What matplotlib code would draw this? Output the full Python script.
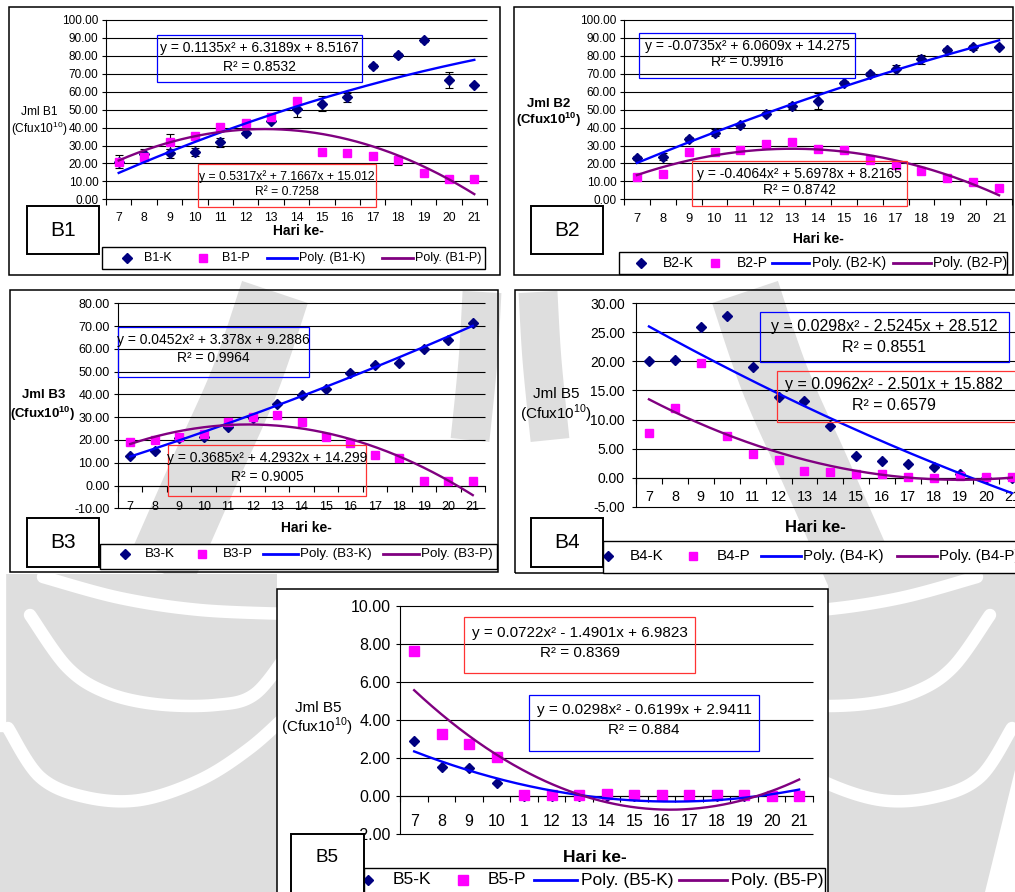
import numpy as np
import matplotlib
matplotlib.use("Agg")
import matplotlib.pyplot as plt
from matplotlib.lines import Line2D
from matplotlib.patches import Rectangle, Polygon
from matplotlib.ticker import FormatStrFormatter

plt.rcParams["font.family"] = ["Liberation Sans", "DejaVu Sans"]
plt.rcParams["mathtext.fontset"] = "custom"
plt.rcParams["mathtext.rm"] = "Liberation Sans"
plt.rcParams["mathtext.bf"] = "Liberation Sans:bold"

W, H = 1015, 892
NAVY, MAGENTA, BLUE, PURPLE = "#000080", "#FF00FF", "#0000FF", "#800080"

days = np.arange(7, 22)

# --- B1 ---
b1_k = [21.0, 25.3, 25.8, 26.4, 31.8, 36.8, 43.9, 50.6, 53.4, 57.0, 74.4, 80.6, 89.0, 66.5, 63.9]
b1_k_err = [3.5, 2.5, 2.5, 2.0, 2.5, 1.0, 1.0, 4.5, 4.0, 2.5, 1.0, 1.0, 1.0, 4.5, 0.5]
b1_p = [21.0, 23.4, 32.2, 35.1, 40.3, 42.8, 46.0, 54.6, 26.6, 26.0, 24.0, 21.7, 14.9, 11.3, 11.4]
b1_p_err = [1.0, 1.0, 4.0, 1.0, 1.5, 1.5, 1.0, 1.0, 0.5, 0.5, 0.5, 2.5, 0.5, 0.5, 0.5]
b1_k_fit = [-0.1135, 6.3189, 8.5167]
b1_p_fit = [-0.5317, 7.1667, 15.012]
b1_k_eq = ["y = 0.1135x² + 6.3189x + 8.5167", "R² = 0.8532"]
b1_p_eq = ["y = 0.5317x² + 7.1667x + 15.012", "R² = 0.7258"]

# --- B2 ---
b2_k = [22.9, 23.8, 33.5, 37.2, 41.4, 47.8, 52.0, 55.0, 64.7, 69.9, 72.5, 78.1, 83.3, 84.8, 85.1]
b2_k_err = [1.0, 2.0, 1.0, 2.0, 1.0, 1.0, 1.5, 4.5, 1.0, 1.0, 2.5, 2.5, 1.0, 1.5, 0.5]
b2_p = [12.5, 13.9, 26.4, 26.4, 27.3, 30.9, 32.2, 27.9, 27.3, 21.9, 19.0, 16.0, 11.7, 9.9, 6.5]
b2_p_err = [0.5] * 15
b2_k_fit = [-0.0735, 6.0609, 14.275]
b2_p_fit = [-0.4064, 5.6978, 8.2165]
b2_k_eq = ["y = -0.0735x² + 6.0609x + 14.275", "R² = 0.9916"]
b2_p_eq = ["y = -0.4064x² + 5.6978x + 8.2165", "R² = 0.8742"]

# --- B3 ---
b3_k = [13.0, 15.3, 20.8, 21.5, 25.9, 29.5, 35.7, 39.6, 42.3, 49.4, 52.9, 54.0, 59.8, 63.8, 71.3]
b3_p = [19.0, 20.2, 21.5, 22.8, 28.0, 30.3, 31.0, 28.0, 21.3, 18.7, 13.4, 12.2, 1.9, 1.9, 1.9]
b3_k_fit = [0.0452, 3.378, 9.2886]
b3_p_fit = [-0.3685, 4.2932, 14.299]
b3_k_eq = ["y = 0.0452x² + 3.378x + 9.2886", "R² = 0.9964"]
b3_p_eq = ["y = 0.3685x² + 4.2932x + 14.299", "R² = 0.9005"]

# --- B4 ---
b4_k = [20.0, 20.2, 26.0, 27.8, 19.0, 13.8, 13.2, 8.9, 3.8, 2.9, 2.4, 1.8, 0.7, 0.0, 0.0]
b4_p = [7.7, 12.0, 19.7, 7.2, 4.0, 3.1, 1.2, 1.0, 0.7, 0.7, 0.05, 0.0, 0.2, 0.1, 0.1]
b4_k_fit = [0.0298, -2.5245, 28.512]
b4_p_fit = [0.0962, -2.501, 15.882]
b4_k_eq = ["y = 0.0298x² - 2.5245x + 28.512", "R² = 0.8551"]
b4_p_eq = ["y = 0.0962x² - 2.501x + 15.882", "R² = 0.6579"]

# --- B5 ---
b5_k = [2.9, 1.52, 1.46, 0.68, 0.0, 0.0, 0.0, 0.0, 0.0, 0.0, 0.0, 0.0, 0.0, 0.0, 0.0]
b5_p = [7.62, 3.27, 2.72, 2.04, 0.06, 0.05, 0.05, 0.1, 0.08, 0.06, 0.06, 0.08, 0.08, 0.03, 0.03]
b5_p_err = [0.2, 0.1, 0.1, 0.05, 0, 0, 0, 0, 0, 0, 0, 0, 0, 0, 0]
b5_k_fit = [0.0298, -0.6199, 2.9411]
b5_p_fit = [0.0722, -1.4901, 6.9823]
b5_k_eq = ["y = 0.0298x² - 0.6199x + 2.9411", "R² = 0.884"]
b5_p_eq = ["y = 0.0722x² - 1.4901x + 6.9823", "R² = 0.8369"]

day_labels = [str(d) for d in days]
b5_day_labels = [("1" if d == 11 else str(d)) for d in days]


def fbox(x0, y0, x1, y1):
    # pixel box (top-left origin) -> figure fraction rect
    return [x0 / W, 1 - y1 / H, (x1 - x0) / W, (y1 - y0) / H]


def rect(fig, x0, y0, x1, y1, color="black", lw=1.0, face="none", z=5):
    r = fbox(x0, y0, x1, y1)
    fig.add_artist(Rectangle((r[0], r[1]), r[2], r[3], transform=fig.transFigure,
                             facecolor=face, edgecolor=color, lw=lw, zorder=z))


def ftext(fig, x, y, s, ha="center", **kw):
    fig.text(x / W, 1 - y / H, s, ha=ha, va="center", **kw)


def fline(fig, xs, ys, **kw):
    fig.add_artist(Line2D([x / W for x in xs], [1 - y / H for y in ys],
                          transform=fig.transFigure, **kw))


def smooth(pts, n=16):
    # Catmull-Rom pass through the control points
    P = np.array(pts, float)
    P = np.vstack([P[0], P, P[-1]])
    out = []
    for i in range(1, len(P) - 2):
        p0, p1, p2, p3 = P[i - 1], P[i], P[i + 1], P[i + 2]
        for t in np.linspace(0, 1, n, endpoint=False):
            out.append(0.5 * (2 * p1 + (p2 - p0) * t
                              + (2 * p0 - 5 * p1 + 4 * p2 - p3) * t ** 2
                              + (3 * p1 - p0 - 3 * p2 + p3) * t ** 3))
    out.append(P[-2])
    return np.array(out)


def watermark(fig):
    # faint logo background, mirrored about x = 510
    gray = "#dedede"
    stripes = [
        [(43, 577), (120, 598), (200, 610), (290, 614)],
        [(30, 615), (67, 667), (105, 692), (155, 704), (215, 705), (255, 694), (290, 650)],
        [(8, 728), (40, 777), (85, 797), (140, 800), (200, 780), (250, 748), (290, 712)],
    ]
    bands = [
        ([(275, 292), (245, 380), (205, 470), (160, 572)], 50),
        ([(482, 292), (478, 360), (470, 440)], 28),
    ]
    for mirror in (False, True):
        mx = (lambda x: 1020 - x) if mirror else (lambda x: x)
        x0, x1 = (0, 277) if not mirror else (828, 1015)
        fig.add_artist(Polygon([(x0 / W, 1 - 574 / H), (x1 / W, 1 - 574 / H),
                                (x1 / W, 0), (x0 / W, 0)], closed=True,
                               transform=fig.transFigure, facecolor=gray,
                               edgecolor="none", zorder=-20))
        for pts, lw in bands:
            c = smooth([(mx(x), y) for x, y in pts])
            fline(fig, c[:, 0], c[:, 1], color=gray, lw=lw, solid_capstyle="butt", zorder=-20)
        for pts in stripes:
            c = smooth([(mx(x), y) for x, y in pts])
            fline(fig, c[:, 0], c[:, 1], color="white", lw=9,
                  solid_capstyle="round", solid_joinstyle="round", zorder=-19)
    fline(fig, [2, 2], [574, 728], color="white", lw=6, zorder=-19)
    fig.add_artist(Polygon([(985 / W, 1 - 892 / H), (1015 / W, 1 - 892 / H),
                            (1015 / W, 1 - 770 / H)], closed=True,
                           transform=fig.transFigure, facecolor="white",
                           edgecolor="none", zorder=-19))


def panel(fig, L, name, k, p, k_fit, p_fit, k_eq, p_eq, yticks, k_err=None, p_err=None,
          xlabels=day_labels):
    fs = L["fs"]
    rect(fig, *L["frame"], lw=1.1, z=0)
    ax = fig.add_axes(fbox(*L["plot"]))
    ax.patch.set_visible(False)
    ax.set_xlim(6.5, 21.5)
    ax.set_ylim(yticks[0], yticks[-1])
    ax.hlines(yticks, 6.5, 21.5, color="black", lw=0.8, clip_on=False, zorder=1)

    for s in ("top", "right"):
        ax.spines[s].set_visible(False)
    ax.spines["left"].set_linewidth(0.8)
    ax.spines["bottom"].set_linewidth(0.8)
    ax.spines["bottom"].set_position(("data", 0))

    ax.set_yticks(yticks)
    ax.yaxis.set_major_formatter(FormatStrFormatter("%.2f"))
    ax.tick_params(axis="y", length=3, width=0.8, pad=L["ypad"], labelsize=fs["ty"])
    ax.set_xticks(days)
    ax.set_xticklabels(xlabels)
    ax.set_xticks(np.arange(6.5, 22, 1), minor=True)
    ax.tick_params(axis="x", which="major", length=0, pad=L["xpad"], labelsize=fs["tx"])
    ax.tick_params(axis="x", which="minor", length=4, width=0.8, direction="out")

    msd, mss = L["ms"]
    if k_err is not None:
        ax.errorbar(days, k, yerr=k_err, fmt="none", ecolor="black", elinewidth=0.8,
                    capsize=3, capthick=0.8, zorder=2)
    if p_err is not None:
        ax.errorbar(days, p, yerr=p_err, fmt="none", ecolor="black", elinewidth=0.8,
                    capsize=3, capthick=0.8, zorder=2)
    ax.plot(days, k, ls="none", marker="D", ms=msd, color=NAVY, zorder=3)
    ax.plot(days, p, ls="none", marker="s", ms=mss, color=MAGENTA, zorder=3)

    # second-order trendlines over the Excel index x = 1..15
    t = np.linspace(1, 15, 300)
    ax.plot(t + 6, np.polyval(k_fit, t), color=BLUE, lw=1.7, zorder=4)
    ax.plot(t + 6, np.polyval(p_fit, t), color=PURPLE, lw=1.7, zorder=4)

    # trendline equation boxes
    for eq, key, col in ((k_eq, "k_box", BLUE), (p_eq, "p_box", "#FF3333")):
        x0, y0, x1, y1, ya, yb = L[key]
        rect(fig, x0, y0, x1, y1, color=col, lw=0.9, z=6)
        cx = L.get(key + "_cx", (x0 + x1) / 2)
        efs = L.get(key + "_fs", fs["eq"])
        ftext(fig, cx, ya, eq[0], fontsize=efs, zorder=7)
        ftext(fig, cx, yb, eq[1], fontsize=efs, zorder=7)

    # axis titles
    ylw = "bold" if L.get("ybold") else "normal"
    sup = r"$^{\mathbf{10}}$" if L.get("ybold") else r"$^{10}$"
    (x1, y1), (x2, y2) = L["ylab"]
    ftext(fig, x1, y1, "Jml " + L["yname"], fontsize=fs["yl"], fontweight=ylw)
    ftext(fig, x2, y2, "(Cfux10" + sup + ")", fontsize=fs["yl"], fontweight=ylw)
    ftext(fig, *L["xlab"], "Hari ke-", fontsize=fs["xl"], fontweight="bold")

    # legend
    lx0, ly0, lx1, ly1 = L["legend"]
    rect(fig, lx0, ly0, lx1, ly1, lw=1.0, face="white", z=8)
    ly, (dk, tk), (dp, tp), (la0, la1, tla), (lb0, lb1, tlb) = L["leg"]
    fline(fig, [dk], [ly], ls="none", marker="D", ms=msd, color=NAVY, zorder=9)
    fline(fig, [dp], [ly], ls="none", marker="s", ms=mss, color=MAGENTA, zorder=9)
    fline(fig, [la0, la1], [ly, ly], color=BLUE, lw=2, zorder=9)
    fline(fig, [lb0, lb1], [ly, ly], color=PURPLE, lw=2, zorder=9)
    for x, s in ((tk, name + "-K"), (tp, name + "-P"),
                 (tla, "Poly. (%s-K)" % name), (tlb, "Poly. (%s-P)" % name)):
        ftext(fig, x, ly, s, ha="left", fontsize=fs["leg"], zorder=9)

    # panel tag
    tx0, ty0, tx1, ty1 = L["tag"]
    rect(fig, tx0, ty0, tx1, ty1, lw=1.4, face="white", z=10)
    ftext(fig, *L["tagxy"], name, fontsize=fs["tag"], zorder=11)
    return ax


fig = plt.figure(figsize=(W / 100, H / 100), dpi=100)
fig.patch.set_facecolor("white")
watermark(fig)

LAYOUT = {
    "B1": dict(
        frame=(9, 7, 500, 275), plot=(106, 20, 487, 199.3),
        k_box=(157, 35, 362, 82, 48, 67), p_box=(198, 164, 376, 207, 177, 192),
        p_box_fs=8.7,
        ylab=((39, 112), (39, 129)), yname="B1", xlab=(298, 231),
        legend=(102, 247, 485, 269),
        leg=(258, (127, 144), (203, 222), (267, 297, 299), (382, 413, 415)),
        tag=(27, 206, 99, 254), tagxy=(63, 230),
        xpad=9, ypad=2.5, ms=(4.6, 5.8),
        fs=dict(ty=8.5, tx=8.8, eq=10, leg=9, xl=10, yl=8.6, tag=15)),
    "B2": dict(
        frame=(514, 7, 1013, 275), plot=(624, 20, 1012, 199.3),
        k_box=(639, 33, 855, 78, 46, 62), p_box=(692, 161, 907, 206, 174, 190),
        ylab=((549, 104), (549, 120)), yname="B2", ybold=True, xlab=(818, 239),
        legend=(619, 252, 1007, 274),
        leg=(263, (641, 663), (715, 737), (772, 809, 812), (893, 931, 933)),
        tag=(531, 206, 603, 254), tagxy=(567, 230),
        xpad=10, ypad=2.5, ms=(4.6, 5.8),
        fs=dict(ty=8.5, tx=9.3, eq=10, leg=10, xl=10, yl=9.5, tag=15)),
    "B3": dict(
        frame=(10, 290, 498, 572), plot=(118, 303.3, 485, 508.3),
        k_box=(118, 327, 309, 377, 340, 358), p_box=(168, 445, 366, 496, 458, 477),
        ylab=((44, 395), (43, 414)), yname="B3", ybold=True, xlab=(306, 528),
        legend=(100, 544, 497, 569),
        leg=(554, (125, 145), (202, 223), (263, 298, 300), (383, 419, 421)),
        tag=(27, 518, 99, 567), tagxy=(63, 543),
        xpad=11.5, ypad=3, ms=(4.8, 6),
        fs=dict(ty=9, tx=9, eq=10, leg=9.6, xl=10, yl=9.5, tag=15)),
    "B4": dict(
        frame=(515, 290, 1030, 573), plot=(636, 303.3, 1024.8, 506.7),
        k_box=(760, 312, 1009, 362, 327, 347), p_box=(777, 371, 1040, 422, 385, 405),
        p_box_cx=894,
        ylab=((556, 394), (556, 414)), yname="B5", xlab=(815, 528),
        legend=(603, 541, 1030, 573),
        leg=(556, (608, 630), (693, 717), (761, 801, 803), (897, 937, 939)),
        tag=(531, 518, 603, 567), tagxy=(567, 543),
        xpad=9, ypad=5, ms=(5.2, 6.2),
        fs=dict(ty=10, tx=10.4, eq=11.5, leg=10.9, xl=12, yl=11, tag=15)),
    "B5": dict(
        frame=(277, 589, 828, 900), plot=(400.4, 605.7, 812.9, 834.3),
        k_box=(529, 695, 759, 751, 710, 730), p_box=(464, 617, 695, 673, 633, 653),
        ylab=((318, 708), (317, 727)), yname="B5", xlab=(595, 858),
        legend=(364, 868, 825, 900),
        leg=(880, (368, 393), (463, 488), (534, 577, 581), (679, 727, 731)),
        tag=(291, 834, 364, 900), tagxy=(327, 858),
        xpad=13, ypad=4, ms=(5.5, 7),
        fs=dict(ty=11.5, tx=11.5, eq=11, leg=12.5, xl=12.5, yl=11, tag=13.5)),
}

panel(fig, LAYOUT["B1"], "B1", b1_k, b1_p, b1_k_fit, b1_p_fit, b1_k_eq, b1_p_eq,
      [0, 10, 20, 30, 40, 50, 60, 70, 80, 90, 100], b1_k_err, b1_p_err)
panel(fig, LAYOUT["B2"], "B2", b2_k, b2_p, b2_k_fit, b2_p_fit, b2_k_eq, b2_p_eq,
      [0, 10, 20, 30, 40, 50, 60, 70, 80, 90, 100], b2_k_err, b2_p_err)
panel(fig, LAYOUT["B3"], "B3", b3_k, b3_p, b3_k_fit, b3_p_fit, b3_k_eq, b3_p_eq,
      [-10, 0, 10, 20, 30, 40, 50, 60, 70, 80])
panel(fig, LAYOUT["B4"], "B4", b4_k, b4_p, b4_k_fit, b4_p_fit, b4_k_eq, b4_p_eq,
      [-5, 0, 5, 10, 15, 20, 25, 30])
panel(fig, LAYOUT["B5"], "B5", b5_k, b5_p, b5_k_fit, b5_p_fit, b5_k_eq, b5_p_eq,
      [-2, 0, 2, 4, 6, 8, 10], None, b5_p_err, xlabels=b5_day_labels)

fig.savefig("out.png", dpi=100, facecolor="white")
